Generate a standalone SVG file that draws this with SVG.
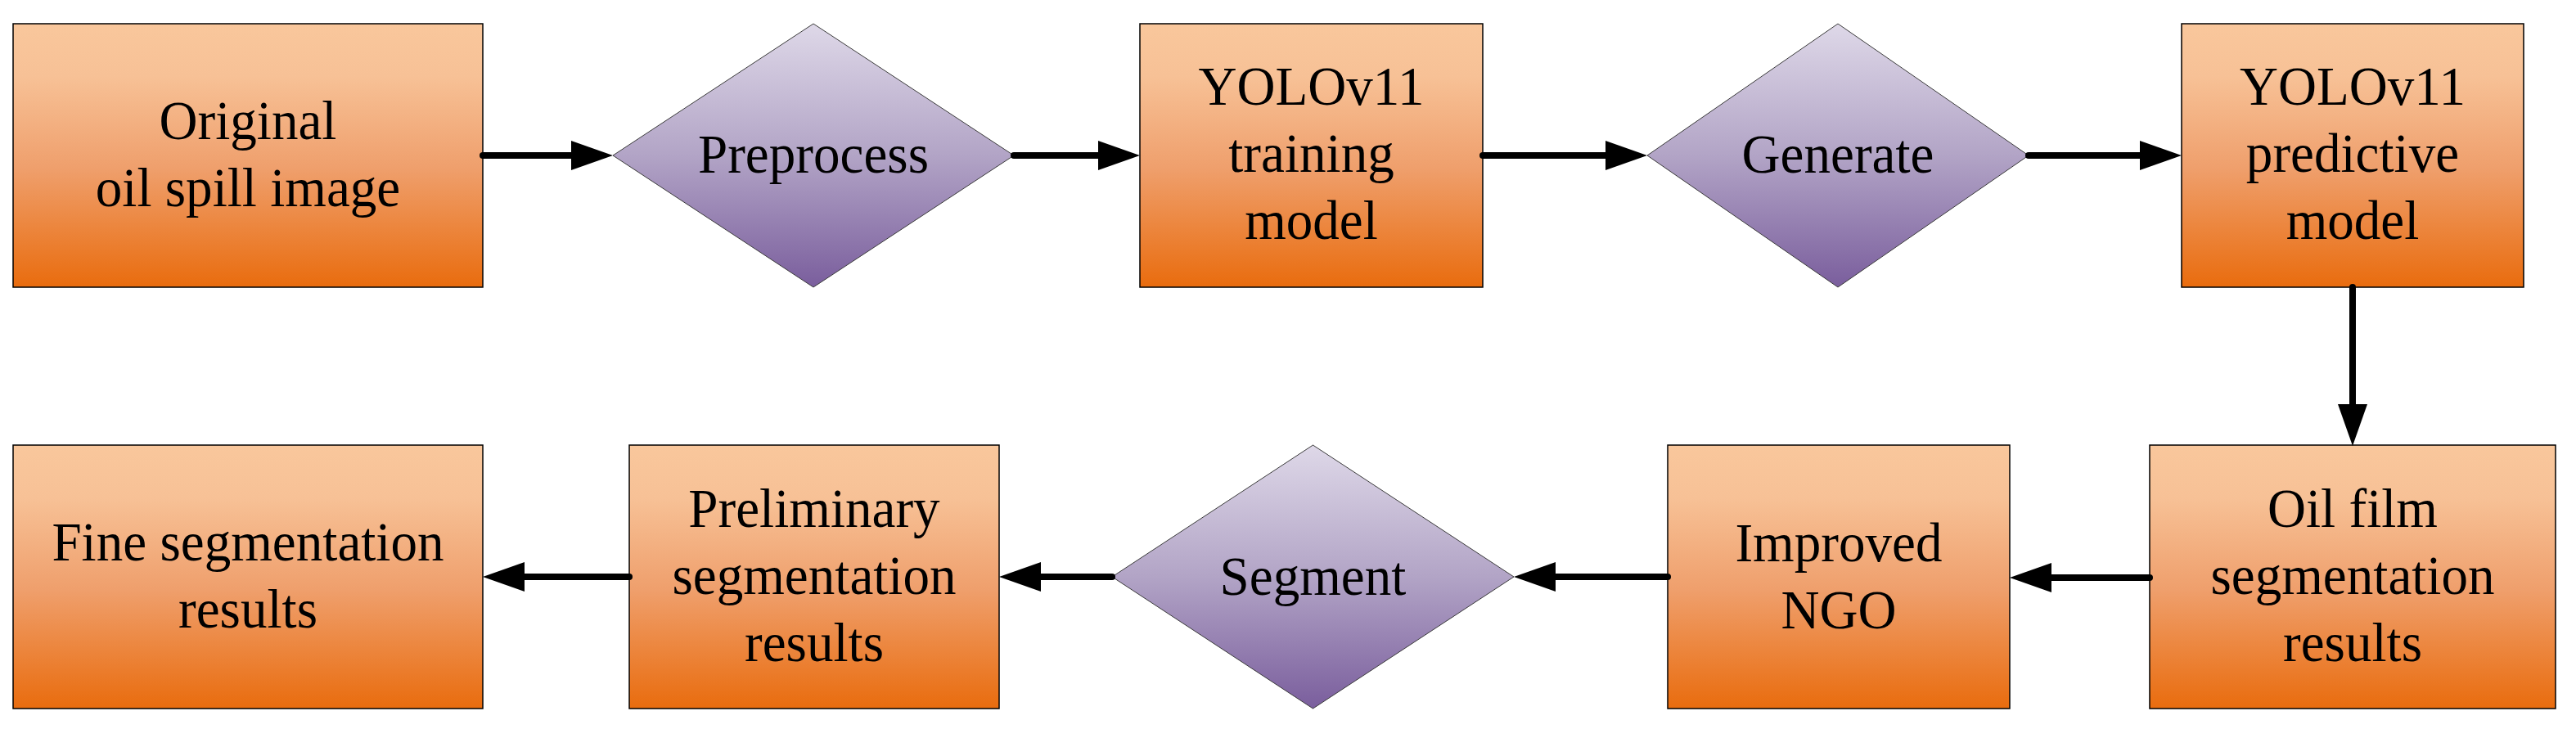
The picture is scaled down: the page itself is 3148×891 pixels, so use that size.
<svg xmlns="http://www.w3.org/2000/svg" width="3148" height="891" viewBox="0 0 3148 891">
<defs>
<linearGradient id="gOrange" x1="0" y1="0" x2="0" y2="1">
<stop offset="0" stop-color="#F9C79C"/>
<stop offset="0.2" stop-color="#F7C196"/>
<stop offset="0.55" stop-color="#EF9F6C"/>
<stop offset="1" stop-color="#E96C0E"/>
</linearGradient>
<linearGradient id="gPurple" x1="0" y1="0" x2="0" y2="1">
<stop offset="0" stop-color="#DED8E8"/>
<stop offset="0.5" stop-color="#B2A4C6"/>
<stop offset="1" stop-color="#7A5E9D"/>
</linearGradient>
<marker id="arrow" markerUnits="userSpaceOnUse" markerWidth="52" markerHeight="36" refX="0" refY="18" orient="auto" viewBox="0 0 52 36">
<polygon points="0,0 51,18 0,36" fill="#000"/>
</marker>
</defs>
<style>
.box{fill:url(#gOrange);stroke:#000;stroke-width:1.5}
.dia{fill:url(#gPurple);stroke:#3a3a3a;stroke-width:1}
.t{font-family:"Liberation Serif","Times New Roman",serif;font-size:67px;fill:#000;text-anchor:middle;transform-box:fill-box;transform-origin:center;transform:scaleX(0.972)}
.c{fill:none;stroke:#000;stroke-width:8;stroke-linecap:round;marker-end:url(#arrow)}
</style>
<g id="n-original">
<rect class="box" x="16" y="29" width="574" height="322"/>
<text class="t" x="303" y="170">Original</text>
<text class="t" x="303" y="252">oil spill image</text>
</g>
<g id="n-preprocess">
<polygon class="dia" points="994,29 1239,190 994,351 749,190"/>
<text class="t" x="994" y="211">Preprocess</text>
</g>
<g id="n-training">
<rect class="box" x="1393" y="29" width="419" height="322"/>
<text class="t" x="1602.5" y="128">YOLOv11</text>
<text class="t" x="1602.5" y="210">training</text>
<text class="t" x="1602.5" y="292">model</text>
</g>
<g id="n-generate">
<polygon class="dia" points="2246,29 2479,190 2246,351 2013,190"/>
<text class="t" x="2246" y="211">Generate</text>
</g>
<g id="n-predictive">
<rect class="box" x="2666" y="29" width="418" height="322"/>
<text class="t" x="2875" y="128">YOLOv11</text>
<text class="t" x="2875" y="210">predictive</text>
<text class="t" x="2875" y="292">model</text>
</g>
<g id="n-oilfilm">
<rect class="box" x="2627" y="544" width="496" height="322"/>
<text class="t" x="2875" y="644">Oil film</text>
<text class="t" x="2875" y="726">segmentation</text>
<text class="t" x="2875" y="808">results</text>
</g>
<g id="n-improved">
<rect class="box" x="2038" y="544" width="418" height="322"/>
<text class="t" x="2247" y="686">Improved</text>
<text class="t" x="2247" y="768">NGO</text>
</g>
<g id="n-segment">
<polygon class="dia" points="1604.5,544 1850,705 1604.5,866 1359,705"/>
<text class="t" x="1604.5" y="727">Segment</text>
</g>
<g id="n-preliminary">
<rect class="box" x="769" y="544" width="452" height="322"/>
<text class="t" x="995" y="644">Preliminary</text>
<text class="t" x="995" y="726">segmentation</text>
<text class="t" x="995" y="808">results</text>
</g>
<g id="n-fine">
<rect class="box" x="16" y="544" width="574" height="322"/>
<text class="t" x="303" y="685">Fine segmentation</text>
<text class="t" x="303" y="767">results</text>
</g>
<g id="connectors">
<path class="c" d="M590,190 H698"/>
<path class="c" d="M1239,190 H1342"/>
<path class="c" d="M1812,190 H1962"/>
<path class="c" d="M2479,190 H2615"/>
<path class="c" d="M2875,351 V494"/>
<path class="c" d="M2627,706 H2507"/>
<path class="c" d="M2038,705 H1901"/>
<path class="c" d="M1359,705 H1272"/>
<path class="c" d="M769,705 H641"/>
</g>
</svg>
